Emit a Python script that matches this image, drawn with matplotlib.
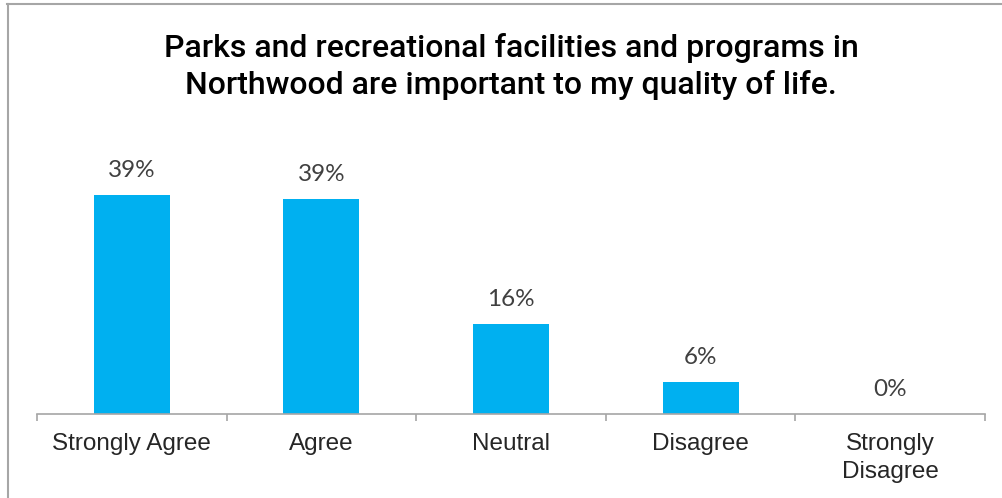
import matplotlib.pyplot as plt
from matplotlib.lines import Line2D

categories = ['Strongly Agree', 'Agree', 'Neutral', 'Disagree', 'Strongly\nDisagree']
values = [39.4, 38.7, 16.2, 5.8, 0.0]

W, H = 1002, 498
fig = plt.figure(figsize=(W / 100, H / 100), dpi=100)

# plot area in pixels: x 37..985, baseline at y=414, top at y=150
ax = fig.add_axes([37 / W, (H - 414) / H, (985 - 37) / W, (414 - 150) / H])

x = range(len(categories))
ax.bar(x, values, width=0.4, color='#00B0F0')
ax.set_xlim(-0.5, len(categories) - 0.5)
ax.set_ylim(0, 47.5)

for xi, v in zip(x, values):
    ax.annotate(f'{v:.0f}%', (xi, v), xytext=(0, 13), textcoords='offset points',
                ha='center', va='baseline', fontsize=17.5, color='#404040',
                family='Lato')

for s in ['top', 'right', 'left']:
    ax.spines[s].set_visible(False)
ax.spines['bottom'].set_color('#A6A6A6')
ax.spines['bottom'].set_linewidth(1.2)
ax.set_yticks([])

# category boundaries get the tick marks, labels sit at the bar centres
ax.set_xticks([i - 0.5 for i in range(len(categories) + 1)])
ax.set_xticklabels([])
ax.tick_params(axis='x', which='major', length=5, width=1.2, color='#A6A6A6', direction='out')
ax.set_xticks(list(x), minor=True)
ax.set_xticklabels(categories, minor=True, fontsize=17.5, color='#262626',
                   family='Liberation Sans', linespacing=1.35)
ax.tick_params(axis='x', which='minor', length=0, pad=14)

fig.text(511 / W, 1 - 66.5 / H,
         'Parks and recreational facilities and programs in\nNorthwood are important to my quality of life.',
         ha='center', va='center', fontsize=23, fontweight='medium', family='Roboto',
         color='black', linespacing=1.28)

# chart frame (top and left edges)
fig.add_artist(Line2D([7 / W, 1], [1 - 4.5 / H, 1 - 4.5 / H], color='#A6A6A6', lw=1.5,
                      transform=fig.transFigure))
fig.add_artist(Line2D([7.5 / W, 7.5 / W], [0, 1 - 4.5 / H], color='#A6A6A6', lw=1.5,
                      transform=fig.transFigure))

fig.savefig('out.png', dpi=100)
